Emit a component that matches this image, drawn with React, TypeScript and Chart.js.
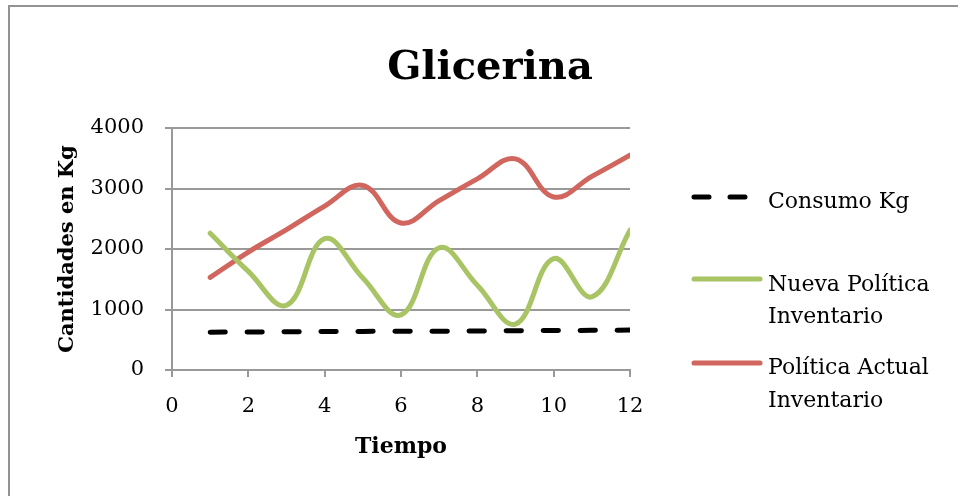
import React, { useEffect, useRef } from "react";
import { Chart, registerables } from "chart.js";

Chart.register(...registerables);

const tiempo = [1, 2, 3, 4, 5, 6, 7, 8, 9, 10, 11, 12];
const consumoKg = [625, 628, 632, 635, 638, 640, 642, 645, 650, 652, 655, 660];
const nuevaPolitica = [2260, 1630, 1070, 2170, 1520, 910, 2020, 1400, 760, 1840, 1210, 2310];
const politicaActual = [1530, 1950, 2320, 2710, 3050, 2430, 2800, 3160, 3490, 2860, 3200, 3550];
const yTicks = [0, 1000, 2000, 3000, 4000];
const xTicks = [0, 2, 4, 6, 8, 10, 12];

const titleText = "Glicerina";
const xTitle = "Tiempo";
const yTitle = "Cantidades en Kg";
const legendItems = [
  { lines: ["Consumo Kg"], color: "#000000", dash: true },
  { lines: ["Nueva Política", "Inventario"], color: "#A8C465", dash: false },
  { lines: ["Política Actual", "Inventario"], color: "#D0665E", dash: false },
];

const FONT = "'DejaVu Serif', serif";

const overlayPlugin = {
  id: "overlay",
  afterDraw(chart: any) {
    const ctx = chart.ctx;
    ctx.save();
    ctx.fillStyle = "#000";
    ctx.font = `bold 40px ${FONT}`;
    ctx.textAlign = "center";
    ctx.textBaseline = "alphabetic";
    ctx.fillText(titleText, 490, 79);
    const sampleY = [197, 279, 363];
    const baselines = [[208], [291, 323], [374, 407]];
    ctx.font = `22px ${FONT}`;
    ctx.textAlign = "left";
    legendItems.forEach((it, i) => {
      ctx.beginPath();
      ctx.lineWidth = 5;
      ctx.strokeStyle = it.color;
      ctx.lineCap = "round";
      if (it.dash) {
        ctx.setLineDash([15, 21]);
        ctx.moveTo(694, sampleY[i]);
        ctx.lineTo(746, sampleY[i]);
      } else {
        ctx.setLineDash([]);
        ctx.moveTo(694, sampleY[i]);
        ctx.lineTo(760, sampleY[i]);
      }
      ctx.stroke();
      ctx.setLineDash([]);
      ctx.fillStyle = "#000";
      it.lines.forEach((t, j) => ctx.fillText(t, 768, baselines[i][j]));
    });
    ctx.restore();
  },
};

export default function App() {
  const ref = useRef<HTMLCanvasElement | null>(null);
  useEffect(() => {
    if (!ref.current) return;
    const chart = new Chart(ref.current, {
      type: "line",
      data: {
        datasets: [
          {
            label: legendItems[0].lines[0],
            data: tiempo.map((x, i) => ({ x, y: consumoKg[i] })),
            borderColor: "#000000",
            borderWidth: 5,
            borderDash: [15, 22],
            borderCapStyle: "round",
            pointRadius: 0,
            tension: 0.4,
          },
          {
            label: legendItems[1].lines.join(" "),
            data: tiempo.map((x, i) => ({ x, y: nuevaPolitica[i] })),
            borderColor: "#A8C465",
            borderWidth: 5,
            pointRadius: 0,
            tension: 0.4,
            borderCapStyle: "round",
          },
          {
            label: legendItems[2].lines.join(" "),
            data: tiempo.map((x, i) => ({ x, y: politicaActual[i] })),
            borderColor: "#D0665E",
            borderWidth: 5,
            pointRadius: 0,
            tension: 0.4,
            borderCapStyle: "round",
          },
        ],
      },
      options: {
        animation: false,
        responsive: false,
        devicePixelRatio: 1,
        layout: { padding: { left: 0, top: 128, right: 328, bottom: 26 } },
        plugins: { legend: { display: false }, title: { display: false }, tooltip: { enabled: false } },
        scales: {
          x: {
            type: "linear",
            min: 0,
            max: 12,
            afterBuildTicks: (s: any) => {
              s.ticks = xTicks.map((v) => ({ value: v }));
            },
            afterFit: (s: any) => {
              s.height = 100;
            },
            grid: { drawOnChartArea: false, drawTicks: true, tickLength: 7, color: "#999", lineWidth: 2 },
            border: { display: true, color: "#999", width: 2 },
            ticks: { color: "#000", font: { family: FONT, size: 21 }, padding: 17, callback: (v: any) => String(v) },
            title: {
              display: true,
              text: xTitle,
              color: "#000",
              font: { family: FONT, size: 22, weight: "bold" },
              padding: { top: 0, bottom: 10 },
            },
          },
          y: {
            min: 0,
            max: 4000,
            afterBuildTicks: (s: any) => {
              s.ticks = yTicks.map((v) => ({ value: v }));
            },
            afterFit: (s: any) => {
              s.width = 172;
            },
            grid: { drawTicks: true, tickLength: 7, color: "#999", lineWidth: 2 },
            border: { display: true, color: "#999", width: 2 },
            ticks: { color: "#000", font: { family: FONT, size: 21 }, padding: 21, callback: (v: any) => String(v) },
            title: {
              display: true,
              text: yTitle,
              color: "#000",
              font: { family: FONT, size: 21, weight: "bold" },
              padding: { top: 55, bottom: 0 },
            },
          },
        },
      },
      plugins: [overlayPlugin],
    } as any);
    return () => chart.destroy();
  }, []);
  return (
    <div style={{ position: "fixed", left: 0, top: 0, width: 958, height: 496, background: "#fff", overflow: "hidden" }}>
      <div
        style={{
          position: "absolute",
          left: 8,
          top: 5,
          width: 980,
          height: 560,
          borderLeft: "2px solid #939393",
          borderTop: "2px solid #939393",
        }}
      />
      <canvas ref={ref} width={958} height={496} style={{ position: "absolute", left: 0, top: 0, width: 958, height: 496 }} />
    </div>
  );
}
